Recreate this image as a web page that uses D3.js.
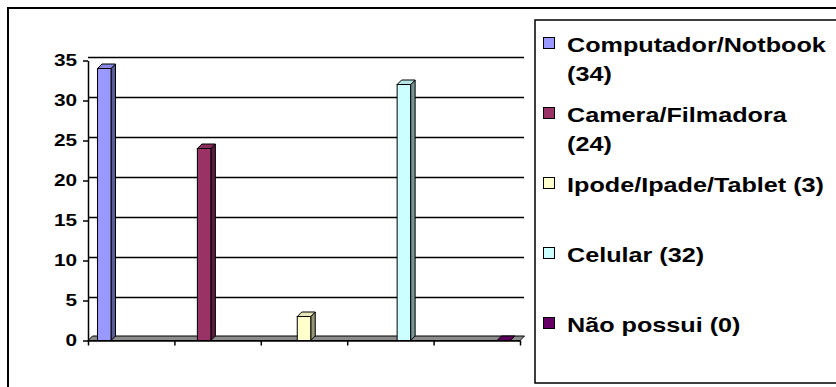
<!DOCTYPE html>
<html>
<head>
<meta charset="utf-8">
<script src="https://cdn.jsdelivr.net/npm/d3@7"></script>
<style>
  body { margin: 0; background: #fff; }
  text { font-family: "Liberation Sans", Arial, sans-serif; font-weight: bold; fill: #000; }
</style>
</head>
<body>
<div id="chart"></div>
<script>
// chart data
const categories = ["Computador/Notbook", "Camera/Filmadora", "Ipode/Ipade/Tablet", "Celular", "Não possui"];
const values = [34, 24, 3, 32, 0];
const colors = ["#9999FF", "#993366", "#FFFFCC", "#CCFFFF", "#660066"];
const yTicks = [0, 5, 10, 15, 20, 25, 30, 35];

const width = 836, height = 387;
const stretch = 1.26;   // the original text is wide
const depth = 4.5, barW = 13.5;

let svg = d3.select("#chart")
    .append("svg")
    .attr("width", width)
    .attr("height", height);

// outer frame
svg.append("rect")
    .attr("x", 8).attr("y", 8)
    .attr("width", 840).attr("height", 400)
    .attr("fill", "none")
    .attr("stroke", "#000")
    .attr("stroke-width", 2);

let y = d3.scaleLinear()
    .domain([0, 35])
    .range([340.5, 60.5]);

let xAxisScale = d3.scaleLinear()
    .domain([0, 5])
    .range([88, 520]);

let x = d3.scalePoint()
    .domain(categories)
    .range([97.5, 497]);

// back wall gridlines
svg.append("g").selectAll("line")
    .data(yTicks.filter(d => d > 0))
    .enter()
    .append("line")
    .attr("x1", 88).attr("x2", 524)
    .attr("y1", d => y(d) - 3).attr("y2", d => y(d) - 3)
    .attr("stroke", "#000")
    .attr("stroke-width", 1.6);

// floor
let y0 = y(0);
svg.append("polygon")
    .attr("points", [[88, y0], [520, y0], [520 + depth, y0 - depth], [88 + depth, y0 - depth]].join(" "))
    .attr("fill", "#8c8c8c")
    .attr("stroke", "#000")
    .attr("stroke-width", 1);

// y axis
let yAxis = svg.append("g")
    .attr("transform", "translate(88,0)")
    .call(d3.axisLeft(y).tickValues(yTicks).tickSize(5).tickPadding(0).tickSizeOuter(0));
yAxis.select(".domain").attr("stroke", "#000").attr("stroke-width", 1.5);
yAxis.selectAll(".tick line").attr("stroke-width", 1.5);
yAxis.selectAll("text")
    .attr("x", -11 / stretch)
    .attr("transform", `scale(${stretch},1)`)
    .style("font-size", "16.5px")
    .style("font-family", "'Liberation Sans', Arial, sans-serif")
    .style("font-weight", "bold");

// x axis (ticks only)
let xAxis = svg.append("g")
    .attr("transform", `translate(0,${y0})`)
    .call(d3.axisBottom(xAxisScale).tickValues(d3.range(0, 6)).tickSize(5).tickSizeOuter(0).tickFormat(""));
xAxis.select(".domain").attr("stroke-width", 1.5);
xAxis.selectAll(".tick line").attr("stroke-width", 1.5);

// 3d columns
let data = categories.map((c, i) => ({name: c, value: values[i], color: colors[i]}));
let bars = svg.append("g").selectAll("g").data(data).enter().append("g");

bars.append("polygon") // side
    .attr("points", d => {
        let bx = x(d.name) + barW, top = y(d.value);
        return [[bx, top], [bx + depth, top - depth], [bx + depth, y0 - depth], [bx, y0]].join(" ");
    })
    .attr("fill", d => d3.color(d.color).darker(1.5))
    .attr("stroke", "#000").attr("stroke-width", 1);

bars.append("rect") // front
    .attr("x", d => x(d.name))
    .attr("y", d => y(d.value))
    .attr("width", barW)
    .attr("height", d => y0 - y(d.value))
    .attr("fill", d => d.color)
    .attr("stroke", "#000").attr("stroke-width", 1);

bars.append("polygon") // top
    .attr("points", d => {
        let bx = x(d.name), top = y(d.value);
        return [[bx, top], [bx + depth, top - depth], [bx + barW + depth, top - depth], [bx + barW, top]].join(" ");
    })
    .attr("fill", d => d3.color(d.color).darker(0.3))
    .attr("stroke", "#000").attr("stroke-width", 1);

// legend
svg.append("rect")
    .attr("x", 535).attr("y", 20)
    .attr("width", 320).attr("height", 363)
    .attr("fill", "#fff")
    .attr("stroke", "#000")
    .attr("stroke-width", 1.5);

let legY = d3.scalePoint().domain(categories).range([52, 332]);
let maxW = 266;

let items = svg.append("g").selectAll("g").data(data).enter().append("g")
    .attr("transform", d => `translate(0,${legY(d.name)})`);

items.append("rect")
    .attr("x", 543.5).attr("y", -14.5)
    .attr("width", 11).attr("height", 11)
    .attr("fill", d => d.color)
    .attr("stroke", "#000").attr("stroke-width", 1);

items.each(function(d) {
    let g = d3.select(this);
    let words = (d.name + " (" + d.value + ")").split(" ");
    let lines = [], cur = "";
    let probe = g.append("text").style("font-size", "20px");
    words.forEach(w => {
        let test = cur ? cur + " " + w : w;
        probe.text(test);
        if (cur && probe.node().getComputedTextLength() * stretch > maxW) {
            lines.push(cur);
            cur = w;
        } else {
            cur = test;
        }
    });
    lines.push(cur);
    probe.remove();
    lines.forEach((ln, i) => {
        g.append("text")
            .attr("transform", `translate(567,${i * 29}) scale(${stretch},1)`)
            .style("font-size", "20px")
            .text(ln);
    });
});
</script>
</body>
</html>
